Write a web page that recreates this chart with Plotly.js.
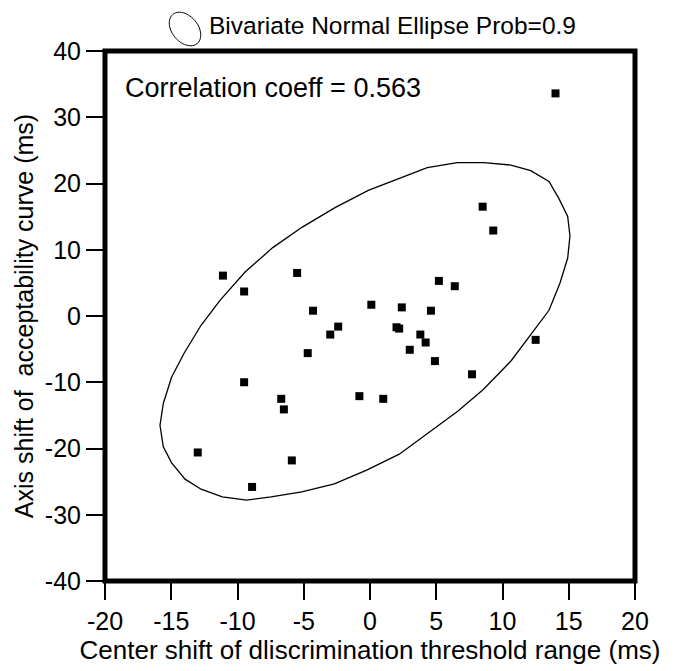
<!DOCTYPE html>
<html>
<head>
<meta charset="utf-8">
<script src="https://cdn.plot.ly/plotly-3.0.1.min.js"></script>
<style>html,body{margin:0;padding:0;background:#fff;}#chart{width:676px;height:671px;}</style>
</head>
<body>
<div id="chart"></div>
<script>
// Data points (center shift, axis shift)
const pointsX = [-11.1, -9.5, -5.5, -4.3, -2.4, -3.0, 0.1, 8.5, 9.3, 5.2, 6.4, 2.4, 4.6, 2.0, 2.2, 3.8, 4.2, 3.0, 12.5, 4.9, 7.7, -0.8, 1.0, -4.7, -9.5, -6.7, -6.5, -13.0, -5.9, -8.9, 14.0];
const pointsY = [6.1, 3.7, 6.5, 0.8, -1.6, -2.8, 1.7, 16.5, 12.9, 5.3, 4.5, 1.3, 0.8, -1.7, -1.9, -2.8, -4.0, -5.1, -3.6, -6.8, -8.8, -12.1, -12.5, -5.6, -10.0, -12.5, -14.1, -20.6, -21.8, -25.8, 33.6];

// Ellipse outline vertices
const ellipseX = [-15.85, -15.60, -14.97, -14.02, -12.75, -11.32, -9.43, -7.34, -5.11, -2.64, -0.13, 4.32, 6.59, 8.60, 10.64, 12.13, 13.51, 14.26, 14.92, 15.09, 14.92, 14.34, 13.51, 10.64, 8.55, 6.62, 2.21, -0.25, -2.69, -5.15, -7.47, -9.31, -11.15, -12.75, -13.96, -14.97, -15.60, -15.85];
const ellipseY = [-16.49, -13.21, -9.20, -5.58, -1.40, 2.37, 6.64, 10.32, 13.42, 16.35, 18.96, 22.38, 23.14, 23.14, 22.78, 21.93, 20.32, 17.71, 15.04, 12.07, 8.75, 4.98, 0.86, -6.79, -11.10, -14.37, -20.86, -23.27, -25.34, -26.55, -27.30, -27.80, -27.30, -26.14, -24.63, -22.17, -19.76, -16.49];

const xTicks = [-20, -15, -10, -5, 0, 5, 10, 15, 20];
const yTicks = [-40, -30, -20, -10, 0, 10, 20, 30, 40];
const corrText = "Correlation coeff = 0.563";
const legendText = "Bivariate Normal Ellipse Prob=0.9";

const FONT = "Liberation Sans, Arial, Helvetica, sans-serif";

const W = 676, H = 671, ML = 105, MR = 41, MT = 51, MB = 90;
const pw = W - ML - MR, ph = H - MT - MB;
// small tilted ellipse icon for the legend (paper coords)
function iconPath(cx, cy, a, b, angDeg) {
  const t = angDeg * Math.PI / 180;
  let d = "";
  for (let i = 0; i <= 48; i++) {
    const u = 2 * Math.PI * i / 48;
    const ex = a * Math.cos(u), ey = b * Math.sin(u);
    const px = cx + ex * Math.cos(t) - ey * Math.sin(t);
    const py = cy + ex * Math.sin(t) + ey * Math.cos(t);
    const X = (px - ML) / pw, Y = (H - MB - py) / ph;
    d += (i === 0 ? "M" : "L") + X.toFixed(5) + "," + Y.toFixed(5);
  }
  return d + "Z";
}

const traces = [
  {
    x: ellipseX, y: ellipseY, type: "scatter", mode: "lines",
    line: {color: "black", width: 1.3}, hoverinfo: "skip", showlegend: false
  },
  {
    x: pointsX, y: pointsY, type: "scatter", mode: "markers",
    marker: {symbol: "square", size: 8, color: "black"}, showlegend: false
  }
];

const axisCommon = {
  showline: false,
  ticks: "outside", ticklen: 18, tickwidth: 2, tickcolor: "black",
  showgrid: false, zeroline: false,
  tickfont: {family: FONT, size: 25, color: "black"},
  fixedrange: true
};

const layout = {
  width: W, height: H,
  margin: {l: ML, r: MR, t: MT, b: MB},
  paper_bgcolor: "white", plot_bgcolor: "white",
  showlegend: false,
  xaxis: Object.assign({}, axisCommon, {
    range: [-20, 20], tickvals: xTicks, ticktext: xTicks.map(String),
    title: {text: "Center shift of dliscrimination threshold range (ms)", font: {family: FONT, size: 26, color: "black"}, standoff: 0}
  }),
  yaxis: Object.assign({}, axisCommon, {
    range: [-40, 40], tickvals: yTicks, ticktext: yTicks.map(String),
    title: {text: "Axis shift of\u00a0 acceptability curve (ms)", font: {family: FONT, size: 25, color: "black"}, standoff: 4}
  }),
  annotations: [
    {text: corrText, xref: "paper", yref: "paper", x: (123 - ML) / pw, y: (H - MB - 88) / ph, xanchor: "left", yanchor: "middle",
     showarrow: false, font: {family: FONT, size: 27, color: "black"}},
    {text: legendText, xref: "paper", yref: "paper", x: (207 - ML) / pw, y: (H - MB - 25) / ph, xanchor: "left", yanchor: "middle",
     showarrow: false, font: {family: FONT, size: 24.5, color: "black"}}
  ],
  shapes: [
    {type: "rect", xref: "paper", yref: "paper", x0: 0, x1: 1, y0: 0, y1: 1,
     line: {color: "black", width: 5}, fillcolor: "rgba(0,0,0,0)", layer: "above"},
    {type: "path", xref: "paper", yref: "paper", path: iconPath(185, 29, 19, 13, 50),
     line: {color: "black", width: 1}, fillcolor: "rgba(0,0,0,0)"}
  ]
};

Plotly.newPlot("chart", traces, layout, {displayModeBar: false, staticPlot: true});
</script>
</body>
</html>
